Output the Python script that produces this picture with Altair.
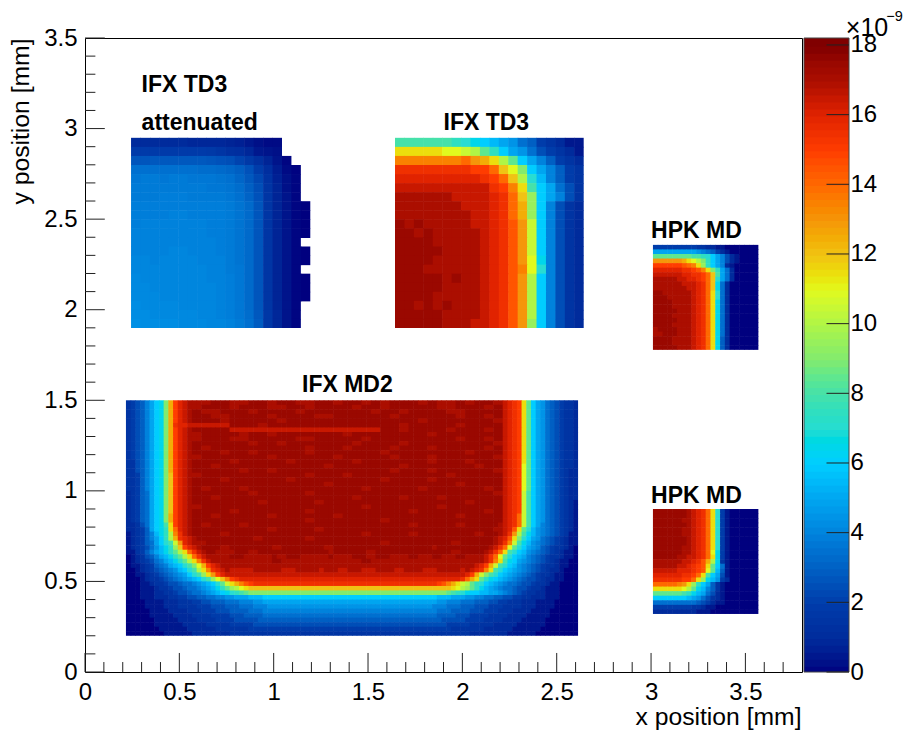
import altair as alt
import pandas as pd

# colour palette
color_stops = [0,1,2,3,4,5,6,7,8,9,10,11,12,13,14,15,16,16.5,17,17.5,18]
color_hex = ["#00007f","#002b9c","#003caa","#005fc3","#0082dc","#00a5f0","#00cdff","#28dcd2","#46e1aa",
             "#82eb6e","#aff546","#e1fa1e","#f0c314","#f5960a","#ff6900","#ff3c00","#e12300","#c81800","#ab0e00","#9a0800","#800000"]

# IFX TD3 attenuated, top to bottom, value units 1e-9
att_rows = [
 [1.0,1.0,1.0,1.0,1.0,1.0,0.9,0.9,0.9,0.9,0.8,0.7,0.5,0.3,0.2,0.2],
 [1.9,1.9,1.9,1.9,1.9,1.9,1.9,1.9,1.8,1.6,1.3,1.2,0.9,0.5,0.4,0.3],
 [2.7,2.7,2.8,2.8,2.8,2.8,2.8,2.8,2.7,2.6,2.5,2.2,1.8,1.3,0.8,0.4,0.1],
 [3.5,3.5,3.5,3.5,3.5,3.5,3.5,3.4,3.4,3.3,3.2,3.0,2.6,2.0,1.2,0.6,0.2,0.05],
 [3.7,3.8,3.8,3.7,3.8,3.8,3.7,3.7,3.7,3.6,3.5,3.2,2.8,2.3,1.4,0.7,0.3,0.1],
 [3.8,3.8,3.8,3.8,3.8,3.8,3.8,3.8,3.7,3.7,3.6,3.4,3.0,2.5,1.5,0.8,0.3,0.1],
 [3.8,3.8,3.8,3.9,3.9,3.9,3.8,3.8,3.8,3.8,3.7,3.5,3.1,2.6,1.6,0.8,0.4,0.1],
 [3.9,3.9,3.9,3.9,3.9,3.9,3.9,3.9,3.9,3.9,3.8,3.6,3.3,2.7,1.6,0.8,0.4,0.1,0.0],
 [3.9,3.9,3.9,3.9,4.0,4.0,3.9,3.9,3.9,3.9,3.8,3.6,3.3,2.7,1.6,0.8,0.4,0.1,0.0],
 [3.9,4.0,4.0,4.0,4.0,4.0,4.0,4.0,3.9,3.9,3.8,3.6,3.3,2.7,1.6,0.8,0.4,0.1,0.0],
 [4.0,4.0,4.0,4.0,4.0,4.0,4.0,4.0,3.9,3.9,3.8,3.6,3.3,2.7,1.6,0.8,0.4,0.1,0.0],
 [4.0,4.0,4.0,4.0,4.0,4.0,4.0,4.0,4.0,3.9,3.8,3.6,3.3,2.7,1.6,0.8,0.4,0.1],
 [4.0,4.0,4.0,4.0,4.1,4.1,4.0,4.0,4.0,3.9,3.8,3.6,3.3,2.7,1.6,0.8,0.4,0.1,0.0],
 [4.1,4.1,4.0,4.1,4.1,4.1,4.1,4.0,4.0,4.0,3.8,3.6,3.3,2.7,1.6,0.8,0.4,0.1,0.0],
 [4.1,4.1,4.1,4.1,4.1,4.1,4.1,4.1,4.0,4.0,3.8,3.7,3.3,2.7,1.6,0.8,0.4,0.1],
 [4.2,4.1,4.1,4.1,4.1,4.1,4.1,4.1,4.0,4.0,3.9,3.7,3.3,2.7,1.6,0.8,0.4,0.1,0.0],
 [4.2,4.2,4.1,4.1,4.1,4.1,4.1,4.1,4.1,4.0,3.9,3.7,3.3,2.7,1.6,0.8,0.4,0.1,0.0],
 [4.2,4.2,4.2,4.1,4.1,4.1,4.1,4.1,4.1,4.0,3.9,3.7,3.3,2.7,1.6,0.8,0.4,0.1,0.0],
 [4.3,4.2,4.2,4.2,4.2,4.1,4.1,4.1,4.1,4.0,3.9,3.7,3.3,2.7,1.6,0.8,0.4,0.1],
 [4.3,4.3,4.2,4.2,4.2,4.2,4.2,4.1,4.1,4.0,3.9,3.7,3.4,2.8,1.7,0.9,0.4,0.1],
 [4.4,4.3,4.3,4.3,4.3,4.2,4.2,4.2,4.1,4.1,4.0,3.8,3.5,2.9,1.7,0.9,0.4,0.1],
]

# Other patches: one character per cell, base 36, in steps of 0.5e-9
td3_rows = [
 "ggggggfedcba97643211",
 "nnnnnmmlkhfca9754321",
 "rrrrrrrsqpnkhca86432",
 "vvvvvvvvuusomica8643",
 "wwwwwwwwwvusokeb8643",
 "xxxxxxxxxxvurngca753",
 "yyyyyyxxxxwvsojca853",
 "yyyyyyyxxxwvspjc8532",
 "yyyyyyyyxxwvspjc8532",
 "zyzyyyyyxxwvtqlc8532",
 "zzyzyyyyyxwvtqlc8532",
 "zzzzyyyyyxwvtqlc8532",
 "zzzzzyyyyxwvtqlc8532",
 "zzzzyyyyyxwvtqmd8532",
 "zzzyyyyyyxwvtrme8532",
 "zzzzzyzyyxwvtqkc8532",
 "zzzzzyyyyxwvtqkc8532",
 "zzzzyyyyyxwvtqkc8532",
 "zzyzyzyyyxwvtqkc8532",
 "zzzzzyyyyxwvtqkc8532",
 "zzzzzyyyxxwvtqjc8532",
]
hpk_up_rows = [
 "4444444443322110000000",
 "aaaaaaaaa9876421000000",
 "hhhhhhhhggfeca85210000",
 "qqqqqqpnmkifca85210000",
 "uuuuuutsrnjfca82100000",
 "wwwwwwvvutrnifa7200000",
 "xxxxxxwwvvusoga7200000",
 "yyyyyxxwwvusoea7200000",
 "yyyyyyxxxwvsod72000000",
 "yyyyyyyxxwvsod72000000",
 "zzyyyyyyxwvsne72000000",
 "zzzyyyyyxwvsne72000000",
 "zzzzyyyyxwvsnd72000000",
 "zzzzyyyyxwvsnd72000000",
 "zzzzzyyyxwvsnd72000000",
 "zzzzyyyyxwvsnd72000000",
 "zzzzzyyyxwvsnd72000000",
 "zzzzyyyyxwvsnd72000000",
 "yzzzzyyyxwvsnd72000000",
 "yyzzzyyyxwvsnd72000000",
 "zzzzyyyyxwvsnd62000000",
 "zzzzyyyyxwvsnd62000000",
 "zzzzzyyyxwvsnd62000000",
]
hpk_lo_rows = [
 "zzzzzzzyxwvsne41000000",
 "zzzzzzzyxwvsne41000000",
 "zzzzzzyyxwvsne41000000",
 "zzzzzzzyxwvsne41000000",
 "zzzzzzyyxwvsne41000000",
 "zzzzzzyyxwvsne41000000",
 "zzzzzzzyxwvsne41000000",
 "zzzzzzzyxwvsne41000000",
 "zzzzzzyyxwvsne41000000",
 "zzzzzzyyxwvsmd41000000",
 "zzzzzyyxxwvsnd41000000",
 "yyyyyyxxwvtpkd31000000",
 "yyyyyxxwvutnhc71000000",
 "xxxxxwwwvutmhb61000000",
 "wwwwwwvvusngca51000000",
 "vvvvvvuusnjdb94200000 ".strip() + "0",
 "sssssrqnjfca6310000000",
 "nnnnnnmkhdb86310000000",
 "hhhhhhgfdba75210000000",
 "cccccccba9753210000000",
 "7777777776542110000000",
 "4444444433211000000000",
 "2222222221110000000000",
]

# IFX MD2: each row is left edge + interior + right edge (right edge listed from the outside in)
md2_left = [
 "34568acdipuwxy","34568acdipuwxy","34568acdipuwxy","34568acdipuwxy","34568acdipuwxy",
 "34568acdipvwwx","34568acdipuwxy","34568acdipuwxy","34568acdipuwxy","34568acdipuwxy",
 "34568acdipuwxy","34568acdipuwxy","34568acdipuwxy","33568acdipuwxy","33568acdipuwxy",
 "33568acdipuwxy","33468acdiouwxy","33468acdiouwxy","33468acdiouwxy","33468acdiouwxy",
 "23467acdiouwxy","23467acdiouwxy","23467acdiouwxy","23467acdiouwxy","23467acdiouwxy",
 "23467acdipuwxy","23467acdipuwxy","22357acdgnuwxy","22346acdfnswxy","123468bdfkrvxy",
 "123468acfkpvwxy","123467aceglqwxy","1234579bdfjouwxy","113468abdfhknsvxy",
 "0123568abdfhknsvxy","01234578abdfhknrvxy",
 "011234678abcegimpuwxy","0012345 6789bcegknrvwxy".replace(" ",""),
 "001123456789acegjnquwx","000123345678 9abcegjmoruvw".replace(" ",""),
 "0001123345567789abcehlnprtuv",
 "00011123345567789abdfhjkmno",
 "000111223345567789abcdefghi","00011122233445566778899aaabbbccc",
 "00001111222333445566677788899aaa","00001111222333344455566677788899",
 "00000111122223334445556666777888","00000111112222333344445556666777",
 "00000011111222233334444555556666","00000011111122222333334444455555",
 "00000001111112222223333333444444","00000000111111222222223333333333",
]
md2_mid = [
 "yyzzyyzzyzzyyzzyzzyzyzzzyzyyzyzzy","yzzzyzzzyyzzyzzzzyzzyzzzzzyyzzzyz","zyyzzzyzzzzyzzzzzzzyzzyzzzzyyzzzz",
 "zzyyzzzzyzzzzyyzzzzzzyzzzzzzyzzyz","zzzyzzzzzyzzzzzzzzzzzzzzyzzzzzzzy",
 "xxxxzzzyzzzzzzzzzzzzzzyzzzzzyzzzz","zzzzxxxxxxxxxxxxxxxxzzyzzzzyzzzyz","yzzzzyzzyzzzzzzzyzzzzzzzzyzzzzzzz",
 "yzzzyyzzzzzyyzzzzzyzzzzzzzzzyzzyz","zzzzzzyzzyzzzzzzzyzzzzyzzzzzzzzzy","zyzzzzzzzzzzyzzzyzzzzyzzzyzzzzzyz",
 "zzzyzzyzzzzzyzzzzzzzyzzzzzzzzyzzz","yzzzzzzzyzzzzzzyzzzzzyzzzyzzzzzzy","zzzzyzzzzzyzzzzzzyzzzzzzzyzzzyzzz",
 "zzyzzzzzzzzzzzyzzzzzzzyzzzzzzzyzz","zzzzzyzzyzzzzzzzzzzzzyzzzyzzzzzzy","yzzzzzzzzzzzyzzzyzzzzzzzzzzyzzzzz",
 "zzzyzzzzzzyzzzzzzzzzyzzzzyzzzzzzz","zzzzzzzzzzzzzzyzzzzzzzzzzzzzyzzzz","zyzzzyzzzzzzzzzzzzyzzzzzyzzzzzzyz",
 "zzzzzzyzzzzzyzzzzzzzzzzzzzzzzzzzy","zzyzzzzzzzzzzzzzzyzzzzyzzzyzzzzzz","zzzzzzzyzzzzzyzzzzzzzzzzzzzzzyzzz",
 "yzzzzzzzzzzzzzzzzzyzzzzzzzyzzzzzz","zzzzyzzzzzzzyzzzzzzzzzzyzzzzzzzyz","zzyzzzzzyzzzzzzyzzzzzzzzzzzzyzzzz",
 "zzzzzzzzzzzzyzzzzzzzyzzzzzzzzzzzz","zyzzzyzzzzzzzzzzzzzzzzzyzzzzyzzzz","zzzzzzzzyzzzzyzzzzzzzzzzzzzzzzzzy",
 "zzzyzzzzzzzzzzzzzzyzzzzyzzzzzzyzz","zzzzzzyzzzzzyzzzzzzzzzzzzzzzzzzzz","yzzzzzzzzzzzzzzzzzzzyzzzzzzzyzzzz",
 "zzyzzzzzyzzzzzyzzzzzzzzzzzyzzzzzz","zyyzzyzzzzzzzzyzzzzyzzzzzzzzzyzzz","yyzzyyyzyzzyyyzyyzzyzzyyzyyzyyzyy",
 "yyyyyyyzyyyyyyyyyyzyyyyyyyyyyyyyy","yyyyyyyyyyyyyyyyyyyyyyyyyyyyyyyyy","xxxyyyyxxyyyxyyxyyxxyyyxyyyxxyyyx",
 "x","w","v","o","i","c","a","9","8","7","6","5","4","3",
]
md2_right = [
 "23345679achnuvwx","23345679achnuvwx","23345679achnuvwx","23345679achnuvwx","23345679achnuvwx",
 "23345679achnuvwx","23345679achnuvwx","23345679achnuvwx","23345679achnuvwx","23345679achnuvwx",
 "23345679achnuvwx","23345679achnuvwx","23345679achnuvwx","23345679achnuvwx","23345679achmuvwx",
 "22345679achmuvwx","22345679achmuvwx","22345679achmuvwx","22345679achmuvwx","22345679achmuvwx",
 "22345679acgluvwx","22345679acgluvwx","12345679acgluvwx","12345679acgluvwx","12345679acgluvwx",
 "12345679acglsvwx","12345679acglsvwx","12345678acglsvwxy","123456789behntwxy","113456789bdgkqvxy",
 "112345679aceintwxy","1123456789bdglrvxy","0123345689acehmsvxy","01123456789bcegnsvxy",
 "01123345678abcehmsvxy","001123456789acdgnrvxy","0011233456789bceglpuwxy",
 "0001223456789abcegnrvwxy","00011233456789abcegilpuwx","000112234556789abcdfhnpsvw",
 "00001123345567789abcefhklnprtuv","0000111233455677" "89abdfhjkmno",
 "00001112233456789aabbccdefghi","000011122233445566778899aaabbbccc",
 "000001111222333445566677788899aaa","00000111122233334445556667778889",
 "000000111122223334445556666777888","000000111112222333344445556666777",
 "0000000111112222333344445555566666","00000001111112222233333444445555",
 "000000001111112222223333333444444","000000000111111222222223333333333",
]

x_major = [0,0.5,1,1.5,2,2.5,3,3.5]
x_minor = [0.1,0.2,0.3,0.4,0.6,0.7,0.8,0.9,1.1,1.2,1.3,1.4,1.6,1.7,1.8,1.9,2.1,2.2,2.3,2.4,2.6,2.7,2.8,2.9,3.1,3.2,3.3,3.4,3.6,3.7]
y_major = [0,0.5,1,1.5,2,2.5,3,3.5]
y_minor = [0.1,0.2,0.3,0.4,0.6,0.7,0.8,0.9,1.1,1.2,1.3,1.4,1.6,1.7,1.8,1.9,2.1,2.2,2.3,2.4,2.6,2.7,2.8,2.9,3.1,3.2,3.3,3.4]
bar_ticks = [0,2,4,6,8,10,12,14,16,18]
bar_levels = [i * 0.2 for i in range(91)]
labels = ["IFX TD3","attenuated","IFX TD3","HPK MD","IFX MD2","HPK MD"]
label_x = [0.30,0.30,1.90,3.00,1.15,3.00]
label_y = [3.24,3.032,3.032,2.432,1.582,0.97]

FONT = "Liberation Sans"
BLACK = "#000000"
OVER = 0.003


def cells(rows, x0, y_top, dx, dy):
    out = []
    for r, row in enumerate(rows):
        for c, v in enumerate(row):
            if v is None:
                continue
            out.append(dict(x0=x0 + c * dx, x1=x0 + (c + 1) * dx + (OVER if c < len(row) - 1 else 0),
                            y1=y_top - r * dy, y0=y_top - (r + 1) * dy - (OVER if r < len(rows) - 1 else 0), v=v))
    return out


def decode(row):
    return [int(ch, 36) * 0.5 for ch in row]


md2_rows = []
for left, mid, right in zip(md2_left, md2_mid, md2_right):
    n = 96 - len(left) - len(right)
    fill = "".join(mid[i * len(mid) // n] for i in range(n))
    md2_rows.append(decode(left + fill + right[::-1]))

rows = []
rows += cells(att_rows, 0.244, 2.949, 0.05, 0.05)
rows += cells([decode(r) for r in td3_rows], 1.643, 2.949, 0.05, 0.05)
rows += cells([decode(r) for r in hpk_up_rows], 3.010, 2.358, 0.0254, 0.0252)
rows += cells([decode(r) for r in hpk_lo_rows], 3.010, 0.900, 0.0254, 0.0252)
rows += cells(md2_rows, 0.217, 1.500, 0.02496, 0.025)
cell_df = pd.DataFrame(rows)

palette = alt.Scale(domain=color_stops, range=color_hex, clamp=True)
xs = alt.Scale(domain=[0, 3.8], nice=False, zero=False)
ys = alt.Scale(domain=[0, 3.5], nice=False, zero=False)

AX = dict(grid=False, domain=False, ticks=False, labelFont=FONT, labelFontSize=24, labelColor=BLACK,
          titleFont=FONT, titleFontSize=24.7, titleFontWeight="normal", titleColor=BLACK, labelFlush=False,
          labelOverlap=False, format="~g")

heat = alt.Chart(cell_df).mark_rect().encode(
    x=alt.X("x0:Q", scale=xs, axis=alt.Axis(values=x_major, title="x position [mm]", labelPadding=8,
                                            titleAlign="right", titleAnchor="end", titleX=716, titleY=32, **AX)),
    x2="x1:Q",
    y=alt.Y("y0:Q", scale=ys, axis=alt.Axis(values=y_major, title="y position [mm]", labelPadding=8,
                                            titleAngle=270, titleAlign="right", titleAnchor="end", titleX=-52, titleY=0, **AX)),
    y2="y1:Q",
    fill=alt.Fill("v:Q", scale=palette, legend=None),
)


def rules_x(vals, length):
    d = pd.DataFrame({"a": vals, "b": [0] * len(vals), "c": [length] * len(vals)})
    return alt.Chart(d).mark_rule(color="#222222", strokeWidth=1).encode(
        x=alt.X("a:Q", scale=xs), y=alt.Y("b:Q", scale=ys), y2="c:Q")


def rules_y(vals, length):
    d = pd.DataFrame({"a": vals, "b": [0] * len(vals), "c": [length] * len(vals)})
    return alt.Chart(d).mark_rule(color="#222222", strokeWidth=1).encode(
        y=alt.Y("a:Q", scale=ys), x=alt.X("b:Q", scale=xs), x2="c:Q")


label_df = pd.DataFrame({"t": labels, "x": label_x, "y": label_y})
text = alt.Chart(label_df).mark_text(font=FONT, fontSize=23, fontWeight="bold", color=BLACK, align="left",
                                     baseline="middle").encode(
    x=alt.X("x:Q", scale=xs), y=alt.Y("y:Q", scale=ys), text="t:N")

main = alt.layer(heat, rules_x(x_major, 0.105), rules_x(x_minor, 0.055),
                 rules_y(y_major, 0.105), rules_y(y_minor, 0.055), text)

bx = alt.Scale(domain=[0, 1], range=[719, 764], nice=False, zero=False)
by = alt.Scale(domain=[0, 18.2], nice=False, zero=False)
by_axis = alt.Axis(orient="right", offset=47, values=bar_ticks, title=None, labelPadding=1,
                   grid=False, domain=False, ticks=False, labelFont=FONT, labelFontSize=24,
                   labelColor=BLACK, labelFlush=False, labelOverlap=False)

bar_df = pd.DataFrame({"a": [0.0] * len(bar_levels), "b": [1.0] * len(bar_levels),
                       "l": [max(v - 0.05, 0) for v in bar_levels],
                       "h": [min(v + 0.2, 18.2) for v in bar_levels],
                       "v": [v + 0.1 for v in bar_levels]})
bar = alt.Chart(bar_df).mark_rect().encode(
    x=alt.X("a:Q", scale=bx, axis=None),
    x2="b:Q",
    y=alt.Y("l:Q", scale=by, axis=by_axis),
    y2="h:Q",
    fill=alt.Fill("v:Q", scale=palette, legend=None),
)
frame_df = pd.DataFrame({"a": [0.0], "b": [1.0], "l": [0.0], "h": [18.2]})
bar_frame = alt.Chart(frame_df).mark_rect(fillOpacity=0, stroke="#444444", strokeWidth=1).encode(
    x=alt.X("a:Q", scale=bx, axis=None), x2="b:Q",
    y=alt.Y("l:Q", scale=by, axis=by_axis), y2="h:Q")
tick_df = pd.DataFrame({"a": [0.5] * len(bar_ticks), "b": [1.0] * len(bar_ticks), "y": bar_ticks})
bar_tick = alt.Chart(tick_df).mark_rule(color="#222222", strokeWidth=1).encode(
    x=alt.X("a:Q", scale=bx, axis=None), x2="b:Q", y=alt.Y("y:Q", scale=by, axis=by_axis))
exp_df = pd.DataFrame({"t": ["×10", "−9"], "x": [0.93, 1.83], "y": [18.5, 18.8]})
exp_a = alt.Chart(exp_df[:1]).mark_text(font=FONT, fontSize=25, color=BLACK, align="left", baseline="middle").encode(
    x=alt.X("x:Q", scale=bx, axis=None), y=alt.Y("y:Q", scale=by, axis=by_axis), text="t:N")
exp_b = alt.Chart(exp_df[1:]).mark_text(font=FONT, fontSize=14.5, color=BLACK, align="left", baseline="middle").encode(
    x=alt.X("x:Q", scale=bx, axis=None), y=alt.Y("y:Q", scale=by, axis=by_axis), text="t:N")
colorbar = alt.layer(bar, bar_frame, bar_tick, exp_a, exp_b)

chart = alt.layer(main, colorbar).resolve_scale(x="independent", y="independent").properties(
    width=717, height=634,
    autosize=alt.AutoSizeParams(type="none"),
    padding={"left": 77, "top": 30, "right": 101, "bottom": 58},
).configure_view(stroke=BLACK, strokeWidth=1, fill="white")

chart.save("out.html", embed_options={"renderer": "svg", "actions": False})
